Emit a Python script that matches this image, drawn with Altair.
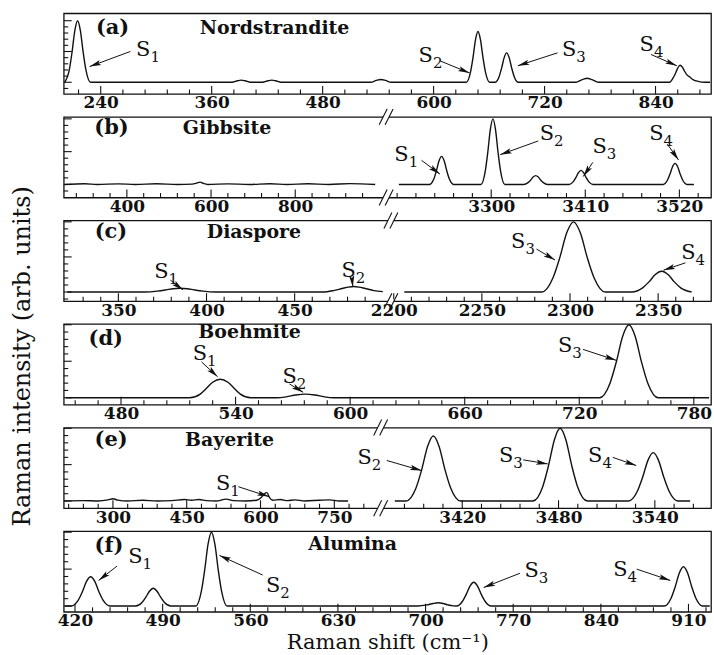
import math
import numpy as np
import pandas as pd
import altair as alt

FONT = "DejaVu Serif"
INK = "#111111"
W, H = 650, 81
ARROW_HEAD = "M0,0L0.55,2.4L0,1.9L-0.55,2.4Z"

# ---------------- (a) Nordstrandite ----------------
A_X = [201, 206, 209, 212, 215, 218, 221, 224, 229, 260, 300, 382, 388, 392, 396, 402,
       415, 421, 425, 429, 435, 480, 532, 538, 543, 548, 554, 600,
       635.4, 639.9, 642.6, 645.3, 648, 650.7, 653.4, 656.1, 660.6,
       666.4, 670.9, 673.6, 676.3, 679, 681.7, 684.4, 687.1, 691.6,
       720, 754, 760, 763, 766, 769, 772, 778, 820,
       855, 859, 862, 864, 866.5, 869, 871, 874, 877, 881, 886, 893, 899]
A_Y = [0, 0.2, 0.49, 0.84, 1.0, 0.84, 0.49, 0.2, 0, 0, 0, 0, 0.025, 0.035, 0.025, 0,
       0, 0.025, 0.035, 0.025, 0, 0, 0, 0.03, 0.045, 0.03, 0, 0,
       0, 0.165, 0.40, 0.69, 0.825, 0.69, 0.40, 0.165, 0,
       0, 0.095, 0.233, 0.40, 0.478, 0.40, 0.233, 0.095, 0,
       0, 0, 0.04, 0.055, 0.065, 0.055, 0.04, 0, 0,
       0, 0.07, 0.16, 0.23, 0.277, 0.245, 0.19, 0.12, 0.085, 0.04, 0.015, 0, 0]
A_DOMAIN, A_RANGE = [200, 900], [0, 650]
A_YDOM = [-0.19, 1.12]
A_MAJOR = [240, 360, 480, 600, 720, 840]
A_MINOR = [v for v in range(216, 900, 24) if v not in A_MAJOR]
A_TAG = ("(a)", 252.8, 0.884)
A_NAME = ("Nordstrandite", 428, 0.884)
# subscript, label x, label y, tail x, tail y, tip x, tip y
A_NOTES = [("1", 290.5, 0.52, 272, 0.5, 228, 0.255),
           ("2", 596, 0.426, 607, 0.347, 639, 0.15),
           ("3", 751, 0.52, 734, 0.478, 691, 0.268),
           ("4", 835, 0.609, 835, 0.452, 863, 0.268)]

# ---------------- (b) Gibbsite ----------------
B_X_LOW = [252, 300, 330, 380, 420, 470, 520, 555, 566, 574, 582, 592, 640, 690, 740, 780, 830, 880, 930, 990]
B_Y_LOW = [0, 0.01, 0, 0.008, 0, 0.01, 0, 0.005, 0.02, 0.035, 0.015, 0, 0.008, 0, 0.01, 0, 0.01, 0, 0.012, 0]
B_X_HIGH = [3192, 3228, 3233, 3236, 3239, 3242, 3245, 3248, 3251, 3256,
            3288, 3293, 3296, 3299, 3302, 3305, 3308, 3311, 3316,
            3338, 3343, 3346, 3349, 3352, 3355, 3358, 3361, 3366,
            3391, 3396, 3399, 3402, 3405, 3408, 3411, 3414, 3419,
            3501, 3506, 3509, 3512, 3515, 3518, 3521, 3524, 3529, 3537]
B_Y_HIGH = [0, 0, 0.085, 0.21, 0.36, 0.428, 0.36, 0.21, 0.085, 0,
            0, 0.2, 0.49, 0.84, 1.0, 0.84, 0.49, 0.2, 0,
            0, 0.027, 0.065, 0.112, 0.134, 0.112, 0.065, 0.027, 0,
            0, 0.043, 0.105, 0.18, 0.214, 0.18, 0.105, 0.043, 0,
            0, 0.064, 0.157, 0.27, 0.321, 0.27, 0.157, 0.064, 0, 0]
B_DOMAIN, B_RANGE = [250, 1000, 3185, 3557], [0, 317, 330.5, 650]
B_BREAK = 2092.5
B_YDOM = [-0.2, 1.03]
B_MAJOR = [400, 600, 800, 3300, 3410, 3520]
B_MINOR = ([v for v in range(280, 1000, 40) if v not in B_MAJOR]
           + [v for v in range(3190, 3557, 22) if v not in B_MAJOR])
B_TAG = ("(b)", 363.6, 0.86)
B_NAME = ("Gibbsite", 638, 0.86)
B_NOTES = [("1", 3200, 0.454, 3218.5, 0.368, 3240, 0.159),
           ("2", 3370, 0.774, 3355, 0.663, 3310.5, 0.454),
           ("3", 3431.6, 0.565, 3418.8, 0.337, 3407.7, 0.122),
           ("4", 3498, 0.774, 3506, 0.614, 3519, 0.374)]

# ---------------- (c) Diaspore ----------------
C_X_LOW = [321, 365, 372, 377, 381, 385, 389, 393, 398, 405, 430, 460, 466,
           472, 477, 480.5, 483.5, 486.5, 490, 495, 500]
C_Y_LOW = [0, 0, 0.012, 0.03, 0.047, 0.053, 0.047, 0.03, 0.012, 0, 0, 0, 0,
           0.02, 0.05, 0.07, 0.078, 0.07, 0.05, 0.02, 0.005]
C_X_HIGH = [2206, 2284, 2290.3, 2294.2, 2298.1, 2302, 2305.9, 2309.8, 2313.7, 2320,
            2335, 2341.2, 2344.8, 2348.4, 2352, 2355.6, 2359.2, 2362.8, 2369]
C_Y_HIGH = [0, 0, 0.2, 0.49, 0.84, 1.0, 0.84, 0.49, 0.2, 0,
            0, 0.059, 0.144, 0.249, 0.296, 0.249, 0.144, 0.059, 0]
C_DOMAIN, C_RANGE = [319, 503, 2200, 2380], [0, 325.7, 331.4, 650]
C_BREAK = 1351.5
C_YDOM = [-0.13, 1.02]
C_MAJOR = [350, 400, 450, 2200, 2250, 2300, 2350]
C_MINOR = ([v for v in range(330, 500, 10) if v not in C_MAJOR]
           + [v for v in range(2210, 2380, 10) if v not in C_MAJOR])
C_TAG = ("(c)", 345.8, 0.85)
C_NAME = ("Diaspore", 426.9, 0.85)
C_NOTES = [("1", 376.8, 0.288, 379.5, 0.169, 386.7, 0.03),
           ("2", 483, 0.299, 482.5, 0.194, 483, 0.07),
           ("3", 2273, 0.706, 2281, 0.612, 2291.5, 0.456),
           ("4", 2369.5, 0.56, 2365.5, 0.416, 2353, 0.31)]

# ---------------- (d) Boehmite ----------------
D_X = [451, 516, 521.5, 524.5, 528, 532, 536, 539.5, 542.5, 548,
       561.5, 566.5, 571.5, 576.5, 581.5, 586.5, 591.5,
       730.6, 736.1, 739.4, 742.7, 746, 749.3, 752.6, 755.9, 761.4, 788]
D_Y = [0, 0, 0.05, 0.123, 0.212, 0.253, 0.212, 0.123, 0.05, 0,
       0, 0.012, 0.038, 0.05, 0.038, 0.012, 0,
       0, 0.2, 0.49, 0.84, 1.0, 0.84, 0.49, 0.2, 0, 0]
D_DOMAIN, D_RANGE = [450, 789], [0, 650]
D_YDOM = [-0.095, 1.01]
D_MAJOR = [480, 540, 600, 660, 720, 780]
D_MINOR = [v for v in range(456, 789, 12) if v not in D_MAJOR]
D_TAG = ("(d)", 472, 0.8)
D_NAME = ("Boehmite", 547.3, 0.9)
D_NOTES = [("1", 523.5, 0.6, 522.2, 0.49, 530.6, 0.288),
           ("2", 570.5, 0.288, 568.2, 0.189, 575.4, 0.074),
           ("3", 714.8, 0.712, 722, 0.662, 739.3, 0.513)]

# ---------------- (e) Bayerite ----------------
E_X_LOW = [201, 240, 270, 290, 300, 310, 330, 360, 390, 420, 445, 460, 475, 490, 510, 530,
           545, 570, 592, 602, 608, 613, 618, 625, 640, 655, 670, 690, 720, 740, 760, 778]
E_Y_LOW = [0, 0.005, 0, 0.015, 0.03, 0.012, 0, 0.01, 0, 0.005, 0.02, 0.01, 0.02, 0.005, 0, 0.025,
           0.005, 0, 0.01, 0.05, 0.1, 0.115, 0.05, 0.01, 0.02, 0.005, 0.015, 0, 0.01, 0.015, 0, 0]
E_X_HIGH = [3378, 3385, 3391.2, 3394.8, 3398.4, 3402, 3405.6, 3409.2, 3412.8, 3419,
            3464, 3470.2, 3473.8, 3477.4, 3481, 3484.6, 3488.2, 3491.8, 3498,
            3523.6, 3529.1, 3532.4, 3535.7, 3539, 3542.3, 3545.6, 3548.9, 3554.4, 3562]
E_Y_HIGH = [0, 0, 0.179, 0.435, 0.75, 0.894, 0.75, 0.435, 0.179, 0,
            0, 0.2, 0.49, 0.84, 1.0, 0.84, 0.49, 0.2, 0,
            0, 0.133, 0.326, 0.559, 0.665, 0.559, 0.326, 0.133, 0, 0]
E_DOMAIN, E_RANGE = [200, 835, 3372, 3575], [0, 313.7, 322.8, 650]
E_BREAK = 2103.5
E_YDOM = [-0.1, 1.01]
E_MAJOR = [300, 450, 600, 750, 3420, 3480, 3540]
E_MINOR = ([v for v in range(210, 835, 30) if v not in E_MAJOR]
           + [v for v in range(3384, 3575, 12) if v not in E_MAJOR])
E_TAG = ("(e)", 296.4, 0.835)
E_NAME = ("Bayerite", 537, 0.835)
E_NOTES = [("1", 532.6, 0.233, 555, 0.196, 617, 0.06),
           ("2", 820, 0.594, 3373, 0.557, 3394.7, 0.418),
           ("3", 3449.9, 0.617, 3458, 0.566, 3473.3, 0.51),
           ("4", 3505.5, 0.621, 3513.8, 0.6, 3528.4, 0.488)]

# ---------------- (f) Alumina ----------------
F_X = [412, 417, 422.6, 425.9, 429.2, 432.5, 435.8, 439.1, 442.4, 448,
       468.5, 473.5, 476.5, 479.5, 482.5, 485.5, 488.5, 491.5, 496.5,
       516.4, 520.9, 523.6, 526.3, 529, 531.7, 534.4, 537.1, 541.6,
       694, 701, 706, 710, 714, 718, 722,
       725, 729.5, 732.5, 735.5, 738.5, 741.5, 744.5, 747.5, 752.5,
       890.6, 896.1, 899.4, 902.7, 906, 909.3, 912.6, 915.9, 921.4, 927]
F_Y = [0, 0, 0.079, 0.193, 0.333, 0.396, 0.333, 0.193, 0.079, 0,
       0, 0.048, 0.117, 0.2, 0.241, 0.2, 0.117, 0.048, 0,
       0, 0.2, 0.49, 0.84, 1.0, 0.84, 0.49, 0.2, 0,
       0, 0.015, 0.035, 0.044, 0.035, 0.015, 0.002,
       0, 0.065, 0.158, 0.271, 0.323, 0.271, 0.158, 0.065, 0,
       0, 0.106, 0.26, 0.447, 0.532, 0.447, 0.26, 0.106, 0, 0]
F_DOMAIN, F_RANGE = [411, 928], [0, 650]
F_YDOM = [-0.078, 1.014]
F_MAJOR = list(range(420, 911, 70))
F_MINOR = [v for v in range(434, 928, 14) if v not in F_MAJOR]
F_TAG = ("(f)", 447.1, 0.807)
F_NAME = ("Alumina", 641.8, 0.839)
F_NOTES = [("1", 471.6, 0.661, 453.5, 0.54, 438.9, 0.347),
           ("2", 581.6, 0.275, 569.9, 0.42, 535.4, 0.685),
           ("3", 788, 0.468, 775.4, 0.444, 746.4, 0.251),
           ("4", 859, 0.492, 868.6, 0.50, 895.5, 0.347)]

Y_MAJOR = [0.0, 0.5, 1.0]
Y_MINOR = [-0.1, 0.1, 0.2, 0.3, 0.4, 0.6, 0.7, 0.8, 0.9]


def px_x(v, dom, rng):
    return float(np.interp(v, dom, rng))


def px_y(v, ydom):
    return H * (ydom[1] - v) / (ydom[1] - ydom[0])


def panel(tag, name, segments, dom, rng, ydom, major, minor, notes,
          brk=None, y_title=None, x_title=None):
    xs = alt.Scale(domain=dom, range=rng, nice=False, zero=False)
    ys = alt.Scale(domain=ydom, nice=False, zero=False)

    x_axis = dict(values=major, format="d", ticks=False, domain=False, grid=False,
                  labelFont=FONT, labelFontSize=17, labelFontWeight="bold", labelColor=INK,
                  labelPadding=1, labelFlush=False, labelOverlap=False)
    if x_title:
        x_axis.update(title=x_title, titleFont=FONT, titleFontSize=21,
                      titleFontWeight="normal", titleColor=INK, titleY=31,
                      titleBaseline="middle")
    else:
        x_axis["title"] = None
    y_axis = dict(labels=False, ticks=False, domain=False, grid=False)
    if y_title:
        y_axis.update(title=y_title, titleFont=FONT, titleFontSize=24, titleFontWeight="normal",
                      titleColor=INK, titleAngle=270, titleX=-41, titleY=32,
                      titleAlign="center", titleBaseline="middle")
    else:
        y_axis["title"] = None

    # every layer carries the same scale and axis so they merge cleanly
    def X(field):
        return alt.X(field, type="quantitative", scale=xs, axis=alt.Axis(**x_axis))

    def Y(field):
        return alt.Y(field, type="quantitative", scale=ys, axis=alt.Axis(**y_axis))

    rows = [{"x": a, "y": b, "seg": k}
            for k, (sx, sy) in enumerate(segments)
            for a, b in zip(sx, sy, strict=True)]
    spectrum = pd.DataFrame(rows)

    layers = [alt.Chart(spectrum).mark_line(interpolate="monotone", color=INK, strokeWidth=1.4).encode(
        x=X("x"), y=Y("y"), detail="seg:N")]

    # inward ticks on the bottom and left edges
    for vals, length in ((major, 8), (minor, 4.5)):
        layers.append(alt.Chart(pd.DataFrame({"x": vals})).mark_rule(color=INK, strokeWidth=1.1).encode(
            x=X("x"), y=alt.value(H), y2=alt.value(H - length)))
    for vals, length in ((Y_MAJOR, 8), (Y_MINOR, 4.5)):
        inside = [v for v in vals if ydom[0] < v < ydom[1]]
        layers.append(alt.Chart(pd.DataFrame({"y": inside})).mark_rule(color=INK, strokeWidth=1.1).encode(
            y=Y("y"), x=alt.value(0), x2=alt.value(length)))

    words = pd.DataFrame({"x": [tag[1], name[1]], "y": [tag[2], name[2]],
                          "t": [tag[0], name[0]], "s": [21, 19]})
    layers.append(alt.Chart(words).mark_text(font=FONT, color=INK, fontWeight="bold",
                                             align="center", baseline="middle").encode(
        x=X("x"), y=Y("y"), text="t:N", size=alt.Size("s:Q", scale=None)))

    rec = []
    for sub, lx, ly, ax, ay, tx, ty in notes:
        dx = px_x(tx, dom, rng) - px_x(ax, dom, rng)
        dy = px_y(ty, ydom) - px_y(ay, ydom)
        ang = math.degrees(math.atan2(dx, -dy)) % 360
        rec.append(dict(sub=sub, lx=lx, ly=ly, ax=ax, ay=ay, tx=tx, ty=ty, ang=ang))
    nd = pd.DataFrame(rec)
    layers.append(alt.Chart(nd).mark_rule(color=INK, strokeWidth=1.0).encode(
        x=X("ax"), y=Y("ay"), x2="tx:Q", y2="ty:Q"))
    layers.append(alt.Chart(nd).mark_point(shape=ARROW_HEAD, filled=True, size=95, color=INK,
                                           opacity=1, strokeWidth=0).encode(
        x=X("tx"), y=Y("ty"), angle=alt.Angle("ang:Q", scale=None)))
    layers.append(alt.Chart(nd).mark_text(text="S", font=FONT, fontSize=21, color=INK,
                                          align="right", baseline="middle", dx=3).encode(
        x=X("lx"), y=Y("ly")))
    layers.append(alt.Chart(nd).mark_text(font=FONT, fontSize=15, color=INK,
                                          align="left", baseline="middle", dx=3, dy=7).encode(
        x=X("lx"), y=Y("ly"), text="sub:N"))

    # axis break marks on the top and bottom edges
    if brk is not None:
        bd = pd.DataFrame({"x": [brk]})
        for yc in (0, H):
            layers.append(alt.Chart(bd).mark_rule(color="white", strokeWidth=4, xOffset=-3, x2Offset=3).encode(
                x=X("x"), x2="x:Q", y=alt.value(yc)))
            for k in (-3, 3):
                layers.append(alt.Chart(bd).mark_rule(color=INK, strokeWidth=1.1,
                                                      xOffset=k - 4, x2Offset=k + 4).encode(
                    x=X("x"), x2="x:Q", y=alt.value(yc + 8), y2=alt.value(yc - 8)))

    return alt.layer(*layers).properties(width=W, height=H)


panels = [
    panel(A_TAG, A_NAME, [(A_X, A_Y)], A_DOMAIN, A_RANGE, A_YDOM, A_MAJOR, A_MINOR, A_NOTES),
    panel(B_TAG, B_NAME, [(B_X_LOW, B_Y_LOW), (B_X_HIGH, B_Y_HIGH)], B_DOMAIN, B_RANGE, B_YDOM,
          B_MAJOR, B_MINOR, B_NOTES, brk=B_BREAK),
    panel(C_TAG, C_NAME, [(C_X_LOW, C_Y_LOW), (C_X_HIGH, C_Y_HIGH)], C_DOMAIN, C_RANGE, C_YDOM,
          C_MAJOR, C_MINOR, C_NOTES, brk=C_BREAK),
    panel(D_TAG, D_NAME, [(D_X, D_Y)], D_DOMAIN, D_RANGE, D_YDOM, D_MAJOR, D_MINOR, D_NOTES,
          y_title="Raman intensity (arb. units)"),
    panel(E_TAG, E_NAME, [(E_X_LOW, E_Y_LOW), (E_X_HIGH, E_Y_HIGH)], E_DOMAIN, E_RANGE, E_YDOM,
          E_MAJOR, E_MINOR, E_NOTES, brk=E_BREAK),
    panel(F_TAG, F_NAME, [(F_X, F_Y)], F_DOMAIN, F_RANGE, F_YDOM, F_MAJOR, F_MINOR, F_NOTES,
          x_title="Raman shift (cm⁻¹)"),
]

chart = alt.vconcat(*panels, spacing=23, bounds="flush").properties(
    padding={"left": 10, "top": 11, "right": 0, "bottom": 0},
    background="white",
).configure_view(stroke=INK, strokeWidth=1.3)

chart.save("out.html", embed_options={"renderer": "svg", "actions": False})
